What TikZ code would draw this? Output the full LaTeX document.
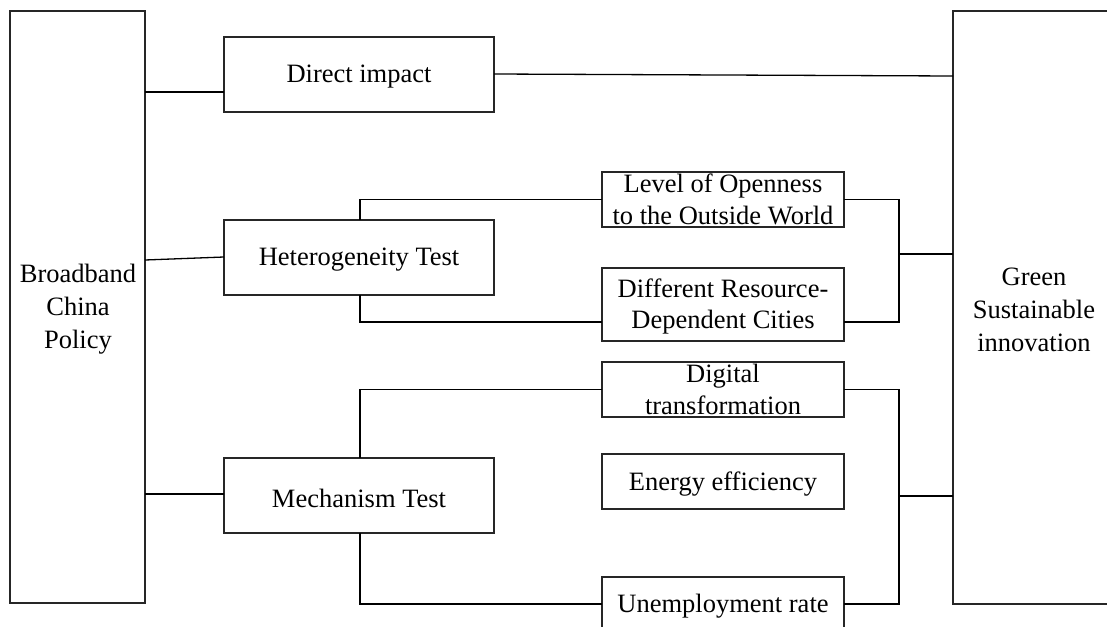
\documentclass[tikz,border=0pt]{standalone}
\usepackage{fontspec}
\setmainfont{Liberation Serif}
\begin{document}
\begin{tikzpicture}[x=1pt,y=-1pt,
  box/.style={draw=black!85, line width=1.3pt, rectangle, inner sep=0pt, outer sep=0pt},
  txt/.style={align=center, inner sep=0pt, yshift=-2.5pt, font=\fontsize{26.5}{33}\selectfont},
  txttwo/.style={align=center, inner sep=0pt, yshift=-0.5pt, font=\fontsize{26.5}{31.5}\selectfont},
  conn/.style={draw=black, line width=1.3pt}]
\useasboundingbox (0,0) rectangle (1107,626);
\clip (0,0) rectangle (1107,626);
\fill[white] (0,0) rectangle (1107,626);
% boxes
\node[box, minimum width=135pt, minimum height=592pt] (L) at (77.5,307) {};
\node[box, minimum width=180pt, minimum height=593pt] (R) at (1043,307.5) {};
\node[box, minimum width=270pt, minimum height=75pt] (direct) at (359,74.5) {};
\node[box, minimum width=270pt, minimum height=75pt] (het) at (359,257.5) {};
\node[box, minimum width=270pt, minimum height=75pt] (mech) at (359,495.5) {};
\node[box, minimum width=242pt, minimum height=55pt] (level) at (723,199.5) {};
\node[box, minimum width=242pt, minimum height=73pt] (diff) at (723,304.5) {};
\node[box, minimum width=242pt, minimum height=55pt] (digi) at (723,389.5) {};
\node[box, minimum width=242pt, minimum height=55pt] (energy) at (723,481.5) {};
\node[box, minimum width=242pt, minimum height=70pt] (unemp) at (723,612) {};
% texts
\node[txt] (tL) at (78,307) {Broadband\\China\\Policy};
\node[txt] (tR) at (1034,307) {Green\\Sustainable\\innovation};
\node[txt] (tdirect) at (direct.center) {Direct impact};
\node[txt] (thet) at (het.center) {Heterogeneity Test};
\node[txt] (tmech) at (mech.center) {Mechanism Test};
\node[txttwo] (tlevel) at (723,199) {Level of Openness\\to the Outside World};
\node[txttwo, yshift=-1pt] (tdiff) at (723,305) {Different Resource-\\Dependent Cities};
\node[txttwo] (tdigi) at (723,389) {Digital\\transformation};
\node[txt] (tenergy) at (energy.center) {Energy efficiency};
\node[txt] (tunemp) at (723,604) {Unemployment rate};
% coordinates
\coordinate (hj) at (899,254);
\coordinate (mj) at (899,496);
% connectors
\draw[conn] (L.east |- 0,92) -- (direct.west |- 0,92);
\draw[conn] (direct.east |- 0,74) -- (R.west |- 0,76);
\draw[conn] (L.east |- 0,260) -- (het.west |- 0,257);
\draw[conn] (L.east |- 0,494) -- (mech.west |- 0,494);
\draw[conn] (het.north -| 360,0) |- (level.west);
\draw[conn] (het.south -| 360,0) |- (diff.west |- 0,322);
\draw[conn] (mech.north -| 360,0) |- (digi.west);
\draw[conn] (mech.south -| 360,0) |- (unemp.west |- 0,604);
\draw[conn] (level.east) -| (hj) |- (diff.east |- 0,322);
\draw[conn] (hj) -- (R.west |- hj);
\draw[conn] (digi.east) -| (mj) |- (unemp.east |- 0,604);
\draw[conn] (mj) -- (R.west |- mj);
\end{tikzpicture}
\end{document}
